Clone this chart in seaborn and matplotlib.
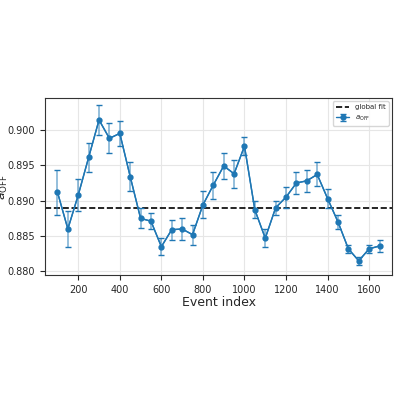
import matplotlib
matplotlib.use("Agg")
import matplotlib.pyplot as plt
import seaborn as sns
import numpy as np

event_index = np.arange(100, 1700, 50)
a_off = [0.8912, 0.8860, 0.8908, 0.8961, 0.9014, 0.8988, 0.8995, 0.8934,
         0.8875, 0.8871, 0.8835, 0.8859, 0.8860, 0.8852, 0.8894, 0.8922,
         0.8949, 0.8938, 0.8977, 0.8887, 0.8847, 0.8890, 0.8905, 0.8925,
         0.8928, 0.8937, 0.8903, 0.8870, 0.8832, 0.8815, 0.8832, 0.8836]
a_err = [0.0032, 0.0025, 0.0022, 0.0020, 0.0021, 0.0021, 0.0018, 0.0021,
         0.0014, 0.0011, 0.0012, 0.0014, 0.0015, 0.0014, 0.0019, 0.0019,
         0.0019, 0.0020, 0.0013, 0.0012, 0.0013, 0.0010, 0.0015, 0.0016,
         0.0016, 0.0017, 0.0013, 0.0010, 0.0006, 0.0006, 0.0006, 0.0009]
global_fit = 0.889

sns.set_style("ticks")
fig = plt.figure(figsize=(4, 4), dpi=100)
ax = fig.add_axes([0.1125, 0.3125, 0.8675, 0.4425])

ax.axhline(global_fit, color="black", ls="--", lw=1.2, label="global fit")
sns.lineplot(x=event_index, y=a_off, ax=ax, color="#1f77b4", lw=1.0,
             marker="o", markersize=3.5, markeredgewidth=0)
ax.errorbar(event_index, a_off, yerr=a_err, fmt="o-", color="#1f77b4",
            ms=3.5, lw=1.0, ecolor="#1f77b4", elinewidth=1.1, capsize=2,
            label=r"$a_{\rm OFF}$")
for coll in ax.collections:
    coll.set_alpha(0.6)

ax.set_xlim(40, 1710)
ax.set_ylim(0.8795, 0.9045)
ax.set_yticks([0.880, 0.885, 0.890, 0.895, 0.900])
ax.set_xticks(range(200, 1700, 200))
ax.tick_params(labelsize=7)
for s in ax.spines.values():
    s.set_color("#333333")
ax.grid(True, color="#e6e6e6", lw=0.8)
ax.set_xlabel("Event index", fontsize=9, labelpad=1)
ax.set_ylabel(r"$a_{\rm OFF}$", fontsize=9)
ax.yaxis.set_label_coords(-0.1, 0.5)
ax.legend(fontsize=5, loc="upper right")

fig.savefig("out.png", dpi=100)
